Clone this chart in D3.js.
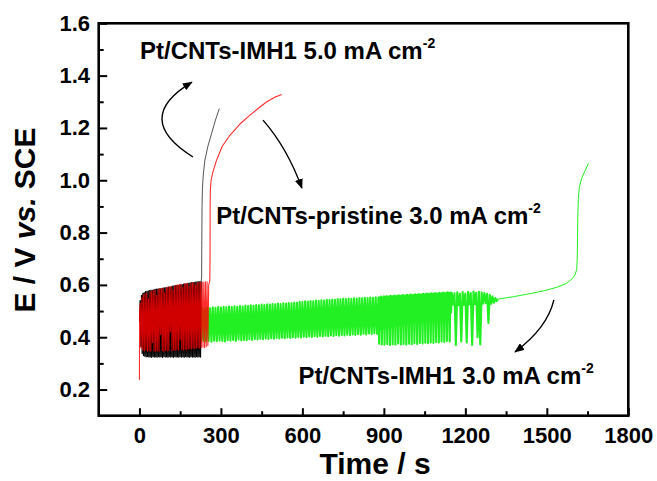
<!DOCTYPE html>
<html>
<head>
<meta charset="utf-8">
<script src="https://cdn.jsdelivr.net/npm/d3@7"></script>
<style>
  html, body { margin: 0; padding: 0; background: #fff; }
  svg { display: block; font-family: "Liberation Sans", Arial, Helvetica, sans-serif; font-weight: bold; }
</style>
</head>
<body>
<svg id="chart" width="657" height="481"></svg>
<script>
// ---- axis ticks ----
const xTicks = [0, 300, 600, 900, 1200, 1500, 1800];
const xMinorTicks = [150, 450, 750, 1050, 1350, 1650];
const yTicks = [0.2, 0.4, 0.6, 0.8, 1.0, 1.2, 1.4, 1.6];
const yMinorTicks = [0.3, 0.5, 0.7, 0.9, 1.1, 1.3, 1.5];

// ---- Pt/CNTs-IMH1 at 5.0 mA cm-2 (black) ----
const blackStartT = [0.5];
const blackStartE = [0.46];
// turning points of the oscillation, first sample at 2.5 s, one every 2.5 s
const blackOscT0 = 2.5, blackOscStep = 2.5;
const blackOscE = [
  0.540, 0.365, 0.560, 0.338, 0.568, 0.330, 0.571, 0.327, 0.574, 0.325,
  0.575, 0.326, 0.577, 0.324, 0.578, 0.325, 0.580, 0.323, 0.579, 0.326,
  0.581, 0.324, 0.583, 0.325, 0.584, 0.323, 0.584, 0.326, 0.586, 0.324,
  0.585, 0.325, 0.587, 0.323, 0.588, 0.326, 0.589, 0.324, 0.590, 0.325,
  0.590, 0.323, 0.592, 0.326, 0.593, 0.324, 0.593, 0.325, 0.595, 0.323,
  0.596, 0.326, 0.597, 0.324, 0.598, 0.325, 0.598, 0.323, 0.600, 0.326,
  0.601, 0.324, 0.601, 0.325, 0.603, 0.323, 0.604, 0.326, 0.604, 0.324,
  0.606, 0.325, 0.607, 0.323, 0.607, 0.326, 0.609, 0.324, 0.609, 0.325,
  0.610, 0.323, 0.611, 0.326, 0.612, 0.324, 0.612, 0.325, 0.613, 0.324,
  0.614
];
const blackRiseT = [229, 229.5, 230.5, 232, 235, 241, 252, 266, 280, 294];
const blackRiseE = [0.63, 0.75, 0.90, 0.97, 1.02, 1.077, 1.13, 1.18, 1.23, 1.274];

// ---- Pt/CNTs-pristine at 3.0 mA cm-2 (red) ----
const redStartT = [0, 0.5];
const redStartE = [0.237, 0.50];
const redOscT0 = 3, redOscStep = 3;
const redOscE = [
  0.530, 0.358, 0.553, 0.350, 0.562, 0.347, 0.566, 0.352, 0.570, 0.346,
  0.548, 0.349, 0.574, 0.345, 0.576, 0.380, 0.578, 0.347, 0.580, 0.346,
  0.560, 0.349, 0.583, 0.345, 0.585, 0.410, 0.586, 0.348, 0.588, 0.346,
  0.570, 0.350, 0.590, 0.347, 0.592, 0.349, 0.593, 0.420, 0.595, 0.348,
  0.580, 0.351, 0.597, 0.349, 0.598, 0.352, 0.600, 0.350, 0.601, 0.390,
  0.602, 0.353, 0.590, 0.351, 0.604, 0.354, 0.605, 0.352, 0.606, 0.355,
  0.595, 0.357, 0.607, 0.355, 0.608, 0.358, 0.608, 0.356, 0.600, 0.359,
  0.609, 0.360, 0.610, 0.358, 0.610, 0.361, 0.611, 0.362, 0.611, 0.360,
  0.612, 0.364, 0.612
];
const redRiseT = [252, 255, 259, 260, 260.3, 261, 264, 270, 284, 305, 333, 370, 407, 440, 469, 500, 524];
const redRiseE = [0.368, 0.600, 0.615, 0.70, 0.90, 0.96, 1.00, 1.03, 1.077, 1.13, 1.172, 1.215, 1.249, 1.277, 1.30, 1.318, 1.328];

// ---- Pt/CNTs-IMH1 at 3.0 mA cm-2 (green) ----
// regular oscillation band, one turning point every 5 s from 200 s
const greenBandT0 = 200, greenBandStep = 5;
const greenBandE = [
  0.508, 0.388, 0.511, 0.386, 0.509, 0.385, 0.512, 0.387, 0.510, 0.384,
  0.513, 0.386, 0.511, 0.383, 0.514, 0.387, 0.512, 0.385, 0.515, 0.388,
  0.513, 0.386, 0.516, 0.384, 0.514, 0.389, 0.517, 0.387, 0.515, 0.390,
  0.518, 0.386, 0.516, 0.391, 0.519, 0.388, 0.517, 0.390, 0.521, 0.389,
  0.519, 0.392, 0.522, 0.390, 0.520, 0.393, 0.523, 0.391, 0.522, 0.394,
  0.525, 0.392, 0.523, 0.395, 0.526, 0.393, 0.525, 0.396, 0.527, 0.394,
  0.526, 0.397, 0.529, 0.395, 0.527, 0.398, 0.530, 0.396, 0.529, 0.399,
  0.531, 0.397, 0.530, 0.400, 0.533, 0.398, 0.532, 0.401, 0.535, 0.399,
  0.534, 0.402, 0.537, 0.400, 0.536, 0.403, 0.538, 0.401, 0.537, 0.404,
  0.540, 0.402, 0.539, 0.405, 0.541, 0.403, 0.540, 0.406, 0.543, 0.404,
  0.542, 0.407, 0.544, 0.405, 0.543, 0.408, 0.546, 0.406, 0.545, 0.409,
  0.547, 0.407, 0.546, 0.410, 0.548, 0.408, 0.547, 0.411, 0.549, 0.409,
  0.548, 0.412, 0.550, 0.410, 0.549, 0.413, 0.551, 0.411, 0.550, 0.414,
  0.552, 0.412, 0.551, 0.415, 0.553, 0.413, 0.552
];
// spiking stretch, one turning point every 2.5 s from 882.5 s
const greenSpikeT0 = 882.5, greenSpikeStep = 2.5;
const greenSpikeE = [
  0.375, 0.553, 0.430, 0.555, 0.372, 0.552, 0.432, 0.556, 0.371, 0.554,
  0.435, 0.557, 0.374, 0.553, 0.437, 0.556, 0.370, 0.558, 0.440, 0.555,
  0.373, 0.557, 0.442, 0.559, 0.371, 0.556, 0.445, 0.558, 0.376, 0.560,
  0.447, 0.557, 0.372, 0.559, 0.450, 0.561, 0.374, 0.558, 0.452, 0.560,
  0.371, 0.562, 0.455, 0.559, 0.375, 0.561, 0.457, 0.563, 0.373, 0.560,
  0.460, 0.562, 0.377, 0.564, 0.462, 0.561, 0.374, 0.563, 0.465, 0.565,
  0.378, 0.562, 0.467, 0.564, 0.376, 0.566, 0.470, 0.563, 0.379, 0.565,
  0.472, 0.567, 0.377, 0.564, 0.475, 0.566, 0.380, 0.568, 0.477, 0.565,
  0.378, 0.567, 0.480, 0.569, 0.382, 0.566, 0.482, 0.568, 0.380, 0.570,
  0.485, 0.567, 0.384, 0.569, 0.487, 0.571, 0.382, 0.568, 0.490, 0.570,
  0.386, 0.572, 0.492, 0.569, 0.384, 0.571, 0.495, 0.570
];
// sparse spikes and dying oscillation, one turning point every 5 s from 1155 s
const greenLateT0 = 1155, greenLateStep = 5;
const greenLateE = [
  0.525, 0.568, 0.370, 0.572, 0.522, 0.566, 0.384, 0.573, 0.524, 0.567,
  0.380, 0.574, 0.526, 0.569, 0.370, 0.575, 0.527, 0.570, 0.400, 0.574,
  0.372, 0.571, 0.528, 0.569, 0.530, 0.566, 0.455, 0.562, 0.528, 0.556,
  0.532, 0.550, 0.538, 0.546
];
const greenTailT = [1335, 1377, 1420, 1460, 1500, 1540, 1573, 1592, 1604, 1610, 1612, 1613, 1614, 1616, 1620, 1628, 1640, 1653];
const greenTailE = [0.548, 0.555, 0.563, 0.571, 0.580, 0.592, 0.606, 0.622, 0.638, 0.66, 0.70, 0.78, 0.86, 0.93, 0.975, 1.007, 1.035, 1.064];

// ---- labels ----
const labels = [
  { text: "Pt/CNTs-IMH1 5.0 mA cm", sup: "-2", t: 2, e: 1.464 },
  { text: "Pt/CNTs-pristine 3.0 mA cm", sup: "-2", t: 283, e: 0.832 },
  { text: "Pt/CNTs-IMH1 3.0 mA cm", sup: "-2", t: 586, e: 0.220 }
];
// curved pointer arrows: start, control, end (time, potential)
const arrows = [
  { from: [197, 1.089], ctrl: [-29, 1.236], to: [193, 1.375] },
  { from: [455, 1.230], ctrl: [545, 1.123], to: [598, 0.970] },
  { from: [1526, 0.543], ctrl: [1502, 0.436], to: [1383, 0.344] }
];

// ---- layout ----
const W = 657, H = 481;
const margin = { top: 23.3, right: 28.7, bottom: 65.3, left: 98.7 };
const iw = W - margin.left - margin.right;
const ih = H - margin.top - margin.bottom;

const svg = d3.select("#chart");
const g = svg.append("g").attr("transform", `translate(${margin.left},${margin.top})`);

const x = d3.scaleLinear().domain([-150, 1800]).range([0, iw]);
const y = d3.scaleLinear().domain([0.1, 1.6]).range([ih, 0]);

function zip(ts, es) { return ts.map((t, i) => [t, es[i]]); }
function sampled(t0, step, es) { return es.map((e, i) => [t0 + i * step, e]); }

const blackOsc = [].concat(zip(blackStartT, blackStartE), sampled(blackOscT0, blackOscStep, blackOscE));
const blackRise = [blackOsc[blackOsc.length - 1]].concat(zip(blackRiseT, blackRiseE));
const redPts = [].concat(
  zip(redStartT, redStartE),
  sampled(redOscT0, redOscStep, redOscE),
  zip(redRiseT, redRiseE)
);
const greenOsc = [].concat(
  sampled(greenBandT0, greenBandStep, greenBandE),
  sampled(greenSpikeT0, greenSpikeStep, greenSpikeE),
  sampled(greenLateT0, greenLateStep, greenLateE)
);
const greenTail = [greenOsc[greenOsc.length - 1]].concat(zip(greenTailT, greenTailE));

svg.append("defs").append("clipPath").attr("id", "plotClip")
  .append("rect").attr("width", iw).attr("height", ih);

const line = d3.line().x(d => x(d[0])).y(d => y(d[1]));

const traces = g.append("g").attr("clip-path", "url(#plotClip)");
function trace(pts, color, width, opacity) {
  traces.append("path").datum(pts)
    .attr("d", line).attr("fill", "none")
    .attr("stroke", color).attr("stroke-width", width)
    .attr("stroke-opacity", opacity).attr("stroke-linejoin", "round");
}
trace(greenOsc, "#22f022", 2.1, 1);
trace(greenTail, "#22f022", 1, 1);
trace(blackOsc, "#000", 1.2, 1);
trace(blackRise, "#555", 1, 1);
trace(redPts, "#ff0000", 1.1, 0.82);

// ---- axes (ticks point inward) ----
const tickFont = 22;
const xAxis = g.append("g").attr("transform", `translate(0,${ih})`)
  .call(d3.axisBottom(x).tickValues(xTicks).tickSize(-7.5).tickPadding(11.7).tickFormat(d3.format("d")));
const xMinor = g.append("g").attr("transform", `translate(0,${ih})`)
  .call(d3.axisBottom(x).tickValues(xMinorTicks).tickSize(-4.5).tickFormat(""));
const yAxis = g.append("g")
  .call(d3.axisLeft(y).tickValues(yTicks).tickSize(-8.5).tickPadding(8.7).tickFormat(d3.format(".1f")));
const yMinor = g.append("g")
  .call(d3.axisLeft(y).tickValues(yMinorTicks).tickSize(-5).tickFormat(""));

[xAxis, xMinor, yAxis, yMinor].forEach(a => {
  a.select(".domain").remove();
  a.selectAll(".tick line").attr("stroke", "#000").attr("stroke-width", 2);
  a.selectAll("text").attr("fill", "#000")
    .style("font-family", '"Liberation Sans", Arial, sans-serif')
    .style("font-weight", "bold").style("font-size", tickFont + "px");
});

// frame
g.append("rect").attr("width", iw).attr("height", ih)
  .attr("fill", "none").attr("stroke", "#000").attr("stroke-width", 2.6);

// ---- axis titles ----
svg.append("text").attr("x", 375).attr("y", 474).attr("text-anchor", "middle")
  .style("font-size", "30px").attr("fill", "#000").text("Time / s");

const yt = svg.append("text").attr("transform", "translate(35,220) rotate(-90)")
  .attr("text-anchor", "middle").style("font-size", "30px").attr("fill", "#000");
yt.append("tspan").text("E / V ");
yt.append("tspan").style("font-style", "italic").text("vs.");
yt.append("tspan").text(" SCE");

// ---- annotations ----
labels.forEach(l => {
  const t = g.append("text").attr("x", x(l.t)).attr("y", y(l.e))
    .style("font-size", "24px").attr("fill", "#000");
  t.append("tspan").text(l.text);
  t.append("tspan").attr("dy", -11).style("font-size", "14px").text(l.sup);
});

const defs = svg.select("defs");
defs.append("marker").attr("id", "head")
  .attr("viewBox", "0 0 10 8").attr("refX", 9).attr("refY", 4)
  .attr("markerUnits", "userSpaceOnUse").attr("markerWidth", 10).attr("markerHeight", 8)
  .attr("orient", "auto")
  .append("path").attr("d", "M0,0 L10,4 L0,8 Z").attr("fill", "#000");

arrows.forEach(a => {
  const p = d3.path();
  p.moveTo(x(a.from[0]), y(a.from[1]));
  p.quadraticCurveTo(x(a.ctrl[0]), y(a.ctrl[1]), x(a.to[0]), y(a.to[1]));
  g.append("path").attr("d", p.toString()).attr("fill", "none")
    .attr("stroke", "#000").attr("stroke-width", 1.4).attr("marker-end", "url(#head)");
});
</script>
</body>
</html>
